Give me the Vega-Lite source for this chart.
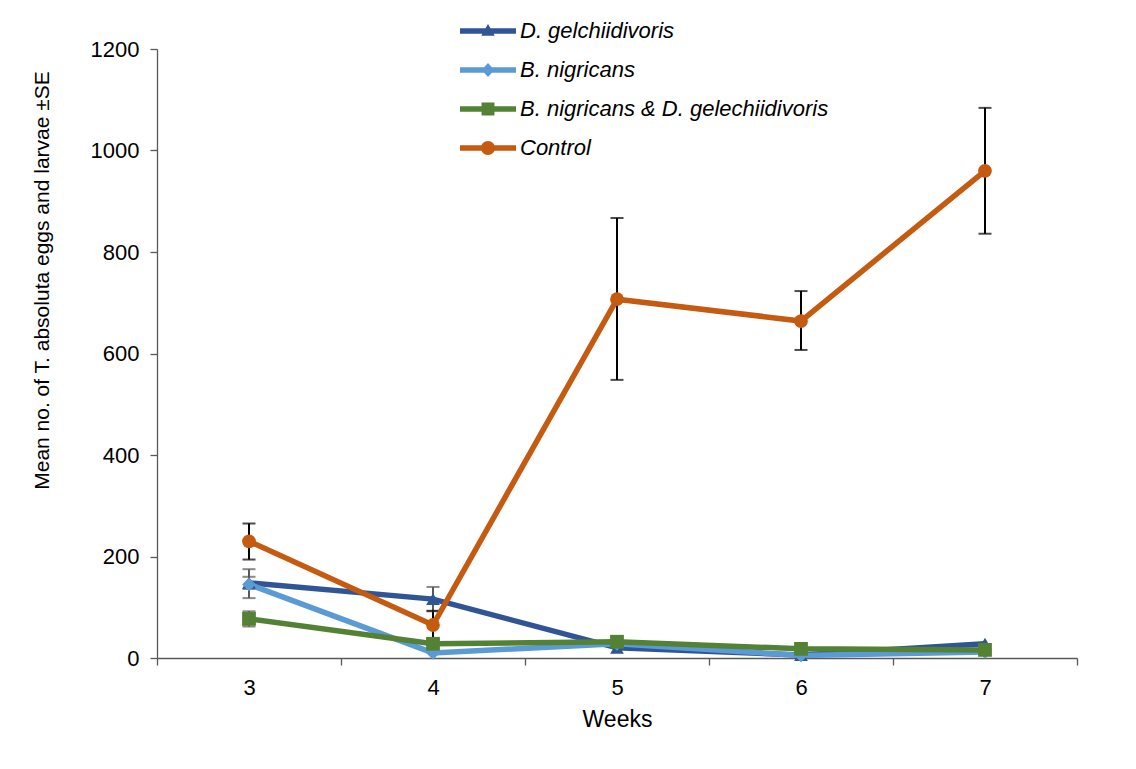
{
  "$schema": "https://vega.github.io/schema/vega-lite/v6.json",
  "autosize": {"type": "none"},
  "width": 920,
  "height": 609,
  "padding": {"left": 157, "top": 49, "right": 59, "bottom": 111},
  "background": "white",
  "config": {
    "view": {"stroke": null},
    "font": "Liberation Sans"
  },
  "datasets": {
    "means": [
      {"series": "D. gelchiidivoris", "week": 3, "value": 148},
      {"series": "D. gelchiidivoris", "week": 4, "value": 116},
      {"series": "D. gelchiidivoris", "week": 5, "value": 20},
      {"series": "D. gelchiidivoris", "week": 6, "value": 6},
      {"series": "D. gelchiidivoris", "week": 7, "value": 28},
      {"series": "B. nigricans", "week": 3, "value": 145},
      {"series": "B. nigricans", "week": 4, "value": 10},
      {"series": "B. nigricans", "week": 5, "value": 28},
      {"series": "B. nigricans", "week": 6, "value": 5},
      {"series": "B. nigricans", "week": 7, "value": 12},
      {"series": "B. nigricans & D. gelechiidivoris", "week": 3, "value": 77},
      {"series": "B. nigricans & D. gelechiidivoris", "week": 4, "value": 28},
      {"series": "B. nigricans & D. gelechiidivoris", "week": 5, "value": 32},
      {"series": "B. nigricans & D. gelechiidivoris", "week": 6, "value": 18},
      {"series": "B. nigricans & D. gelechiidivoris", "week": 7, "value": 16},
      {"series": "Control", "week": 3, "value": 230},
      {"series": "Control", "week": 4, "value": 65},
      {"series": "Control", "week": 5, "value": 707},
      {"series": "Control", "week": 6, "value": 664},
      {"series": "Control", "week": 7, "value": 960}
    ],
    "errs": [
      {"series": "D. gelchiidivoris", "week": 3, "lo": 136, "hi": 160},
      {"series": "D. gelchiidivoris", "week": 4, "lo": 92, "hi": 140},
      {"series": "B. nigricans", "week": 3, "lo": 118, "hi": 175},
      {"series": "B. nigricans & D. gelechiidivoris", "week": 3, "lo": 62, "hi": 92},
      {"series": "Control", "week": 3, "lo": 194, "hi": 265},
      {"series": "Control", "week": 4, "lo": 37, "hi": 93},
      {"series": "Control", "week": 5, "lo": 548, "hi": 867},
      {"series": "Control", "week": 6, "lo": 607, "hi": 723},
      {"series": "Control", "week": 7, "lo": 836, "hi": 1084}
    ]
  },
  "layer": [
    {
      "data": {"name": "errs"},
      "mark": {"type": "rule", "strokeWidth": 2},
      "encoding": {
        "x": {"field": "week", "type": "ordinal", "scale": {"paddingInner": 0, "paddingOuter": 0},
          "axis": {"title": "Weeks", "tickBand": "extent", "labelAngle": 0, "labelFontSize": 22, "labelColor": "#000000", "labelPadding": 12, "titleFontSize": 23, "titleFontWeight": "normal", "titleColor": "#000000", "titlePadding": 10, "domainColor": "#595959", "tickColor": "#595959", "tickSize": 7, "domainWidth": 1.3, "tickWidth": 1.3}},
        "y": {"field": "lo", "type": "quantitative", "scale": {"domain": [0, 1200]},
          "axis": {"title": "Mean no. of T. absoluta eggs and larvae ±SE", "values": [0, 200, 400, 600, 800, 1000, 1200], "format": "d", "grid": false, "labelFontSize": 22, "labelColor": "#000000", "labelPadding": 11, "titleFontSize": 21, "titleFontWeight": "normal", "titleColor": "#000000", "titleX": -105, "titleY": 231, "domainColor": "#595959", "tickColor": "#595959", "tickSize": 7, "domainWidth": 1.3, "tickWidth": 1.3}},
        "y2": {"field": "hi"},
        "color": {"field": "series", "type": "nominal", "legend": null,
          "scale": {"domain": ["D. gelchiidivoris", "B. nigricans", "B. nigricans & D. gelechiidivoris", "Control"], "range": ["#595959", "#595959", "#595959", "#000000"]}}
      }
    },
    {
      "data": {"name": "errs"},
      "mark": {"type": "tick", "size": 13, "thickness": 2},
      "encoding": {
        "x": {"field": "week", "type": "ordinal"},
        "y": {"field": "lo", "type": "quantitative",
          "axis": {"title": "Mean no. of T. absoluta eggs and larvae ±SE", "values": [0, 200, 400, 600, 800, 1000, 1200], "format": "d", "grid": false, "labelFontSize": 22, "labelColor": "#000000", "labelPadding": 11, "titleFontSize": 21, "titleFontWeight": "normal", "titleColor": "#000000", "titleX": -105, "titleY": 231, "domainColor": "#595959", "tickColor": "#595959", "tickSize": 7, "domainWidth": 1.3, "tickWidth": 1.3}},
        "color": {"field": "series", "type": "nominal", "legend": null,
          "scale": {"domain": ["D. gelchiidivoris", "B. nigricans", "B. nigricans & D. gelechiidivoris", "Control"], "range": ["#595959", "#595959", "#595959", "#000000"]}}
      }
    },
    {
      "data": {"name": "errs"},
      "mark": {"type": "tick", "size": 13, "thickness": 2},
      "encoding": {
        "x": {"field": "week", "type": "ordinal"},
        "y": {"field": "hi", "type": "quantitative",
          "axis": {"title": "Mean no. of T. absoluta eggs and larvae ±SE", "values": [0, 200, 400, 600, 800, 1000, 1200], "format": "d", "grid": false, "labelFontSize": 22, "labelColor": "#000000", "labelPadding": 11, "titleFontSize": 21, "titleFontWeight": "normal", "titleColor": "#000000", "titleX": -105, "titleY": 231, "domainColor": "#595959", "tickColor": "#595959", "tickSize": 7, "domainWidth": 1.3, "tickWidth": 1.3}},
        "color": {"field": "series", "type": "nominal", "legend": null,
          "scale": {"domain": ["D. gelchiidivoris", "B. nigricans", "B. nigricans & D. gelechiidivoris", "Control"], "range": ["#595959", "#595959", "#595959", "#000000"]}}
      }
    },
    {
      "data": {"name": "means"},
      "mark": {"type": "line", "strokeWidth": 5.5},
      "encoding": {
        "x": {"field": "week", "type": "ordinal"},
        "y": {"field": "value", "type": "quantitative",
          "axis": {"title": "Mean no. of T. absoluta eggs and larvae ±SE", "values": [0, 200, 400, 600, 800, 1000, 1200], "format": "d", "grid": false, "labelFontSize": 22, "labelColor": "#000000", "labelPadding": 11, "titleFontSize": 21, "titleFontWeight": "normal", "titleColor": "#000000", "titleX": -105, "titleY": 231, "domainColor": "#595959", "tickColor": "#595959", "tickSize": 7, "domainWidth": 1.3, "tickWidth": 1.3}},
        "color": {"field": "series", "type": "nominal", "legend": null,
          "scale": {"domain": ["D. gelchiidivoris", "B. nigricans", "B. nigricans & D. gelechiidivoris", "Control"], "range": ["#2F5597", "#5B9BD5", "#548235", "#C55A11"]}}
      }
    },
    {
      "data": {"name": "means"},
      "mark": {"type": "point", "filled": true, "opacity": 1, "size": 190},
      "encoding": {
        "x": {"field": "week", "type": "ordinal"},
        "y": {"field": "value", "type": "quantitative",
          "axis": {"title": "Mean no. of T. absoluta eggs and larvae ±SE", "values": [0, 200, 400, 600, 800, 1000, 1200], "format": "d", "grid": false, "labelFontSize": 22, "labelColor": "#000000", "labelPadding": 11, "titleFontSize": 21, "titleFontWeight": "normal", "titleColor": "#000000", "titleX": -105, "titleY": 231, "domainColor": "#595959", "tickColor": "#595959", "tickSize": 7, "domainWidth": 1.3, "tickWidth": 1.3}},
        "color": {"field": "series", "type": "nominal", "legend": null,
          "scale": {"domain": ["D. gelchiidivoris", "B. nigricans", "B. nigricans & D. gelechiidivoris", "Control"], "range": ["#2F5597", "#5B9BD5", "#548235", "#C55A11"]}},
        "shape": {"field": "series", "type": "nominal", "legend": null,
          "scale": {"domain": ["D. gelchiidivoris", "B. nigricans", "B. nigricans & D. gelechiidivoris", "Control"], "range": ["triangle-up", "diamond", "square", "circle"]}}
      }
    },
    {
      "data": {"name": "means"},
      "mark": {"type": "point", "filled": true, "opacity": 0},
      "encoding": {
        "x": {"field": "week", "type": "ordinal"},
        "y": {"field": "value", "type": "quantitative",
          "axis": {"title": "Mean no. of T. absoluta eggs and larvae ±SE", "values": [0, 200, 400, 600, 800, 1000, 1200], "format": "d", "grid": false, "labelFontSize": 22, "labelColor": "#000000", "labelPadding": 11, "titleFontSize": 21, "titleFontWeight": "normal", "titleColor": "#000000", "titleX": -105, "titleY": 231, "domainColor": "#595959", "tickColor": "#595959", "tickSize": 7, "domainWidth": 1.3, "tickWidth": 1.3}},
        "color": {"field": "series", "type": "nominal",
          "legend": {"orient": "none", "legendX": 303, "legendY": -46, "title": null, "symbolSize": 3136, "symbolStrokeWidth": 0, "symbolOpacity": 1, "rowPadding": -23, "labelFontSize": 22, "labelFontStyle": "italic", "labelColor": "#000000", "labelOffset": 4, "labelLimit": 500},
          "scale": {"domain": ["D. gelchiidivoris", "B. nigricans", "B. nigricans & D. gelechiidivoris", "Control"], "range": ["#2F5597", "#5B9BD5", "#548235", "#C55A11"]}},
        "shape": {"field": "series", "type": "nominal",
          "legend": {"orient": "none", "legendX": 303, "legendY": -46, "title": null, "symbolSize": 3136, "symbolStrokeWidth": 0, "symbolOpacity": 1, "rowPadding": -23, "labelFontSize": 22, "labelFontStyle": "italic", "labelColor": "#000000", "labelOffset": 4, "labelLimit": 500},
          "scale": {"domain": ["D. gelchiidivoris", "B. nigricans", "B. nigricans & D. gelechiidivoris", "Control"],
            "range": [
              "M-1,-0.1L1,-0.1L1,0.1L-1,0.1ZM0,-0.25L0.24,0.17L-0.24,0.17Z",
              "M-1,-0.1L1,-0.1L1,0.1L-1,0.1ZM0,-0.25L0.23,0L0,0.25L-0.23,0Z",
              "M-1,-0.1L1,-0.1L1,0.1L-1,0.1ZM-0.23,-0.23L0.23,-0.23L0.23,0.23L-0.23,0.23Z",
              "M-1,-0.1L1,-0.1L1,0.1L-1,0.1ZM-0.25,0A0.25,0.25,0,1,1,0.25,0A0.25,0.25,0,1,1,-0.25,0Z"
            ]}}
      }
    }
  ],
  "resolve": {"scale": {"color": "independent", "shape": "independent"}}
}
